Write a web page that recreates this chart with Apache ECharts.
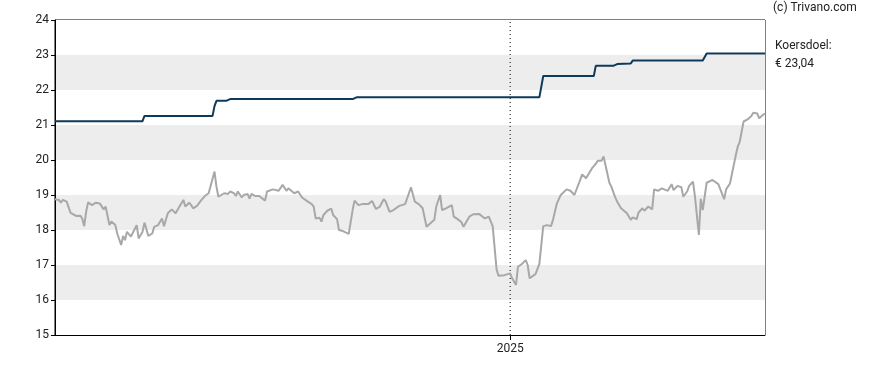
<!DOCTYPE html>
<html>
<head>
<meta charset="utf-8">
<script src="https://cdn.jsdelivr.net/npm/echarts@6/dist/echarts.min.js"></script>
<style>
html,body{margin:0;padding:0;background:#fff;}
#chart{width:888px;height:370px;}
</style>
</head>
<body>
<div id="chart"></div>
<script>
// Day offsets relative to 2025-01-01 and values
const priceDays = [-234,-232,-231,-230,-228,-226,-225,-223,-221,-220,-219,-218,-217,-215,-213,-212,-211,-209,-208,-206,-205,-203,-202,-200,-199,-198,-197,-195,-194,-192,-191,-189,-188,-186,-184,-183,-181,-179,-178,-176,-174,-172,-170,-168,-167,-165,-164,-163,-161,-159,-157,-155,-152,-151,-150,-149,-147,-145,-144,-142,-141,-140,-138,-137,-135,-134,-133,-131,-129,-128,-126,-125,-122,-121,-119,-117,-115,-114,-111,-109,-107,-104,-102,-101,-100,-98,-97,-96,-94,-92,-91,-89,-88,-86,-85,-83,-82,-81,-80,-78,-76,-73,-71,-69,-67,-65,-64,-62,-60,-57,-56,-54,-53,-51,-49,-47,-45,-43,-42,-39,-38,-36,-35,-33,-32,-30,-29,-27,-25,-24,-23,-21,-19,-16,-15,-13,-11,-9,-7,-6,-3,0,1,3,4,6,8,9,10,13,15,17,19,21,22,24,26,27,29,31,33,34,36,37,39,40,42,44,45,47,48,49,51,52,54,55,57,58,60,62,63,65,66,68,69,71,72,73,74,76,78,79,81,82,83,84,86,88,89,91,92,94,95,97,98,99,101,102,104,105,107,108,110,111,113,114,116,117,118,120,121,122,123,124,125,127,128,130,131];
const priceValues = [18.88,18.86,18.78,18.86,18.81,18.49,18.52,18.40,18.41,18.33,18.11,18.52,18.79,18.71,18.78,18.83,18.76,18.59,18.67,18.14,18.24,18.14,17.90,17.57,17.83,17.71,17.95,17.81,17.92,18.14,17.76,17.95,18.21,17.83,17.90,18.09,18.14,18.33,18.11,18.48,18.59,18.48,18.67,18.86,18.67,18.78,18.71,18.62,18.69,18.84,18.97,19.05,19.67,19.24,18.95,18.92,19.05,19.03,19.10,19.05,18.97,19.10,18.93,19.00,19.03,18.90,19.03,18.97,18.97,18.95,18.84,19.10,19.16,19.19,19.12,19.29,19.12,19.19,19.05,19.10,18.93,18.81,18.74,18.67,18.33,18.35,18.24,18.43,18.55,18.61,18.43,18.31,18.00,17.97,17.97,17.89,17.92,18.57,18.84,18.71,18.74,18.74,18.83,18.60,18.67,18.88,18.81,18.52,18.57,18.69,18.74,18.74,18.90,19.22,18.81,18.74,18.62,18.09,18.11,18.29,18.67,19.00,18.57,18.62,18.60,18.71,18.38,18.31,18.22,18.09,18.14,18.38,18.45,18.46,18.41,18.33,18.38,18.11,16.88,16.69,16.71,16.76,16.62,16.43,16.95,17.03,17.14,17.00,16.62,16.74,17.03,18.11,18.14,18.11,18.29,18.76,19.00,19.03,19.16,19.12,19.00,18.95,19.43,19.59,19.48,19.43,19.76,19.89,19.98,19.98,20.10,20.11,19.35,19.24,18.93,18.81,18.62,18.57,18.48,18.29,18.36,18.31,18.50,18.62,18.55,18.67,18.62,18.59,19.16,19.12,19.19,19.16,19.12,19.16,19.31,19.14,19.26,19.22,18.95,19.10,19.26,19.38,18.95,17.86,18.89,18.57,19.35,19.38,19.43,19.38,19.31,19.26,18.88,19.16,19.33,19.38,20.14,20.38,20.52,21.10,21.12,21.16,21.12,21.26,21.35,21.33,21.19,21.29,21.33];
const targetDays = [-234,-189,-188,-153,-152,-151,-146,-144,-81,-79,15,17,43,44,53,55,62,63,99,101,131];
const targetValues = [21.11,21.11,21.26,21.26,21.54,21.69,21.69,21.74,21.74,21.79,21.79,22.40,22.40,22.69,22.69,22.74,22.76,22.84,22.84,23.04,23.04];
const yTicks = [15,16,17,18,19,20,21,22,23,24];
const xLabelDay = 0; // 2025-01-01
const xLabelText = '2025';
const startDay = -234, endDay = 131;
const copyrightText = '(c) Trivano.com';
const targetLabel = 'Koersdoel:';
const targetText = '€ 23,04';

const priceData = priceDays.map((d,i)=>[d, priceValues[i]]);
const targetData = targetDays.map((d,i)=>[d, targetValues[i]]);
const yearLineData = [[xLabelDay, yTicks[0]], [xLabelDay, yTicks[yTicks.length-1]]];

const chart = echarts.init(document.getElementById('chart'));
chart.setOption({
  animation:false,
  grid:{left:55,right:123,top:20,bottom:35,show:true,borderColor:'#000',borderWidth:1,backgroundColor:'transparent'},
  graphic:[
    {type:'text',left:773,top:2,style:{text:copyrightText,font:'12px Roboto',fill:'#222'}},
    {type:'text',left:775,top:40,style:{text:targetLabel,font:'12px Roboto',fill:'#222'}},
    {type:'text',left:775,top:58,style:{text:targetText,font:'12px Roboto',fill:'#222'}}
  ],
  xAxis:{
    type:'value',min:startDay,max:endDay,
    axisLine:{show:true,onZero:false,lineStyle:{color:'#000'}},
    axisTick:{show:true,customValues:[xLabelDay],length:5,lineStyle:{color:'#000'}},
    axisLabel:{customValues:[xLabelDay],formatter:()=>xLabelText,color:'#222',fontSize:12,fontFamily:'Roboto',margin:8},
    splitLine:{show:false}
  },
  yAxis:{
    type:'value',min:yTicks[0],max:yTicks[yTicks.length-1],interval:1,
    axisLine:{show:true,onZero:false,lineStyle:{color:'#000'}},
    axisTick:{show:true,length:4,lineStyle:{color:'#000'}},
    axisLabel:{color:'#222',fontSize:12,fontFamily:'Roboto',margin:6},
    splitLine:{show:false},
    splitArea:{show:true,areaStyle:{color:['#ffffff','#ededed']}}
  },
  series:[
    {type:'line',data:yearLineData,symbol:'none',silent:true,z:1,
     lineStyle:{color:'#000',width:1,type:[1,3]}},
    {type:'line',data:priceData,symbol:'none',lineStyle:{color:'#a8a8a8',width:2},z:2},
    {type:'line',data:targetData,symbol:'none',lineStyle:{color:'#0e3a5b',width:2},z:3}
  ]
});
</script>
</body>
</html>
